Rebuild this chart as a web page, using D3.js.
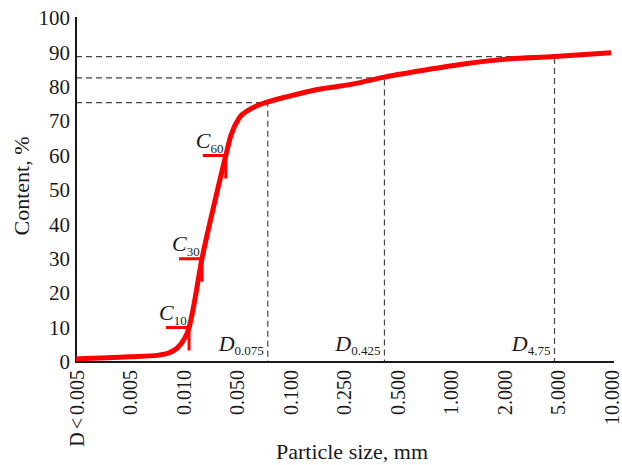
<!DOCTYPE html>
<html>
<head>
<meta charset="utf-8">
<script src="https://cdn.jsdelivr.net/npm/d3@7"></script>
<style>
  body { margin: 0; background: #fff; }
  svg { display: block; font-family: "Liberation Serif", "Times New Roman", serif; }
</style>
</head>
<body>
<svg id="chart" width="622" height="465"></svg>
<script>
// category ticks on the x axis and the sizes they stand for (first one is nominal)
const tickLabels = ['D < 0.005', '0.005', '0.010', '0.050', '0.100', '0.250', '0.500', '1.000', '2.000', '5.000', '10.000'];
const tickSizes = [0.001, 0.005, 0.01, 0.05, 0.1, 0.25, 0.5, 1, 2, 5, 10];
const yTicks = [0, 10, 20, 30, 40, 50, 60, 70, 80, 90, 100];

// grading curve: particle size (mm) vs passing content (%)
const curveSize = [0.001, 0.005, 0.0073, 0.0083, 0.0093, 0.010, 0.012, 0.0131, 0.0177, 0.0254, 0.0362, 0.0424, 0.0517, 0.0588, 0.0652, 0.075, 0.099, 0.164, 0.276, 0.425, 0.807, 1.24, 1.92, 4.75, 10];
const curvePct = [0.9, 1.5, 2.0, 2.6, 4.1, 6.1, 10, 13.7, 30, 45.6, 60, 66, 70.9, 73.3, 74.5, 75.6, 77.3, 79.3, 80.7, 82.8, 85.3, 86.8, 87.9, 88.8, 89.9];

// characteristic points C10 / C30 / C60
const cNames = ['10', '30', '60'];
const cSize = [0.012, 0.0177, 0.0362];
const cPct = [10, 30, 60];

// marked sieve sizes D0.075 / D0.425 / D4.75
const dNames = ['0.075', '0.425', '4.75'];
const dSize = [0.075, 0.425, 4.75];
const dPct = [75.4, 82.6, 88.8];

const plot = { left: 76, right: 611, top: 18, bottom: 362 };
const svg = d3.select('#chart');

const xPoint = d3.scalePoint().domain(tickLabels).range([plot.left, plot.right]);
// piecewise log scale between the category positions
const x = d3.scaleLog().domain(tickSizes).range(tickLabels.map(d => xPoint(d)));
const y = d3.scaleLinear().domain([0, 100]).range([plot.bottom, plot.top]);

// dashed guide lines
const guides = svg.append('g')
    .attr('fill', 'none')
    .attr('stroke', '#444')
    .attr('stroke-width', 1.2)
    .attr('stroke-dasharray', '6,4');

dSize.forEach((s, i) => {
    guides.append('path')
        .attr('d', `M ${plot.left} ${y(dPct[i])} H ${x(s)} V ${plot.bottom}`);
});

// axes
const yAxis = svg.append('g')
    .attr('transform', `translate(${plot.left},0)`)
    .call(d3.axisLeft(y).tickValues(yTicks).tickSize(0).tickPadding(6));

const xAxis = svg.append('g')
    .attr('transform', `translate(0,${plot.bottom})`)
    .call(d3.axisBottom(xPoint).tickSize(0).tickSizeOuter(0));

svg.selectAll('.domain').attr('stroke', '#1a1a1a').attr('stroke-width', 2);
yAxis.select('.domain').attr('d', `M0,${plot.bottom + 1}V${plot.top - 1}`);
xAxis.select('.domain').attr('d', `M${plot.left - 1},0H${plot.right + 3}`);

yAxis.selectAll('text')
    .style('font-family', '"Liberation Serif", serif')
    .style('font-size', '21px')
    .attr('fill', '#1a1a1a');

xAxis.selectAll('text')
    .style('font-family', '"Liberation Serif", serif')
    .style('font-size', '20px')
    .style('word-spacing', '-2px')
    .attr('fill', '#1a1a1a')
    .attr('text-anchor', 'end')
    .attr('transform', 'rotate(-90)')
    .attr('x', -8)
    .attr('y', 0)
    .attr('dy', '0.35em');

// axis titles
svg.append('text')
    .attr('x', 352).attr('y', 459)
    .attr('text-anchor', 'middle')
    .attr('font-size', 22)
    .attr('fill', '#1a1a1a')
    .text('Particle size, mm');

svg.append('text')
    .attr('transform', 'translate(29,186) rotate(-90)')
    .attr('text-anchor', 'middle')
    .attr('font-size', 22)
    .attr('fill', '#1a1a1a')
    .text('Content, %');

// grading curve
const line = d3.line()
    .x(d => x(d[0]))
    .y(d => y(d[1]))
    .curve(d3.curveMonotoneX);

svg.append('path')
    .datum(curveSize.map((s, i) => [s, curvePct[i]]))
    .attr('fill', 'none')
    .attr('stroke', '#ff0000')
    .attr('stroke-width', 5)
    .attr('stroke-linejoin', 'round')
    .attr('d', line);

// C markers
cSize.forEach((s, i) => {
    const cx = x(s), cy = y(cPct[i]);
    svg.append('path')
        .attr('d', `M ${cx - 23} ${cy} H ${cx} V ${cy + 23}`)
        .attr('fill', 'none')
        .attr('stroke', '#ff0000')
        .attr('stroke-width', 3);
    const t = svg.append('text')
        .attr('x', cx - 30).attr('y', cy - 8)
        .attr('fill', '#1a1a1a');
    t.append('tspan').attr('font-style', 'italic').attr('font-size', 22).text('C');
    t.append('tspan').attr('font-size', 13).attr('dy', 5).text(cNames[i]);
});

// D labels
dSize.forEach((s, i) => {
    const t = svg.append('text')
        .attr('x', x(s) - 4).attr('y', 351)
        .attr('text-anchor', 'end')
        .attr('fill', '#1a1a1a');
    t.append('tspan').attr('font-style', 'italic').attr('font-size', 22).text('D');
    t.append('tspan').attr('font-size', 13).attr('dy', 4).text(dNames[i]);
});
</script>
</body>
</html>
